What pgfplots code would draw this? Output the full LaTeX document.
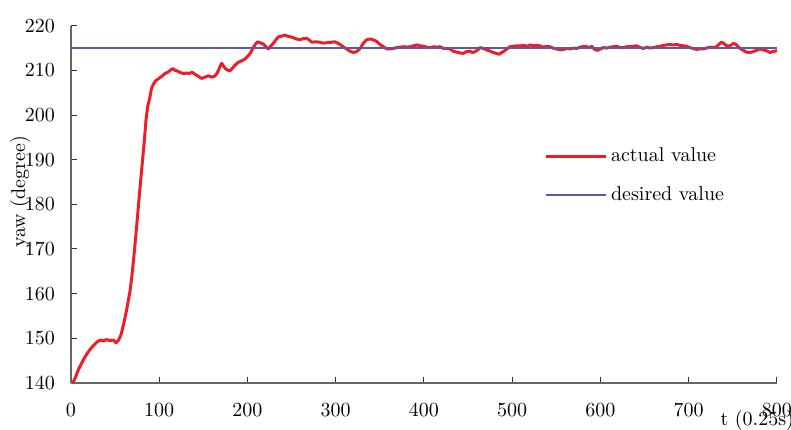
\documentclass[border=0pt]{standalone}
\usepackage{pgfplots}
\pgfplotsset{compat=1.18}
\definecolor{actred}{RGB}{237,30,38}
\definecolor{desblue}{RGB}{88,88,172}
\begin{document}
\begin{tikzpicture}
\begin{axis}[
  scale only axis,
  width=353pt, height=178.6pt,
  xmin=0, xmax=800, ymin=140, ymax=220,
  xtick={0,100,...,800}, ytick={140,150,...,220},
  axis x line=bottom, axis y line=left,
  axis line style={-, draw=black!60, line width=0.6pt},
  tick align=inside,
  major tick length=3pt,
  tick style={black!80, line width=0.5pt},
  xticklabel style={yshift=-7pt},
  yticklabel style={xshift=-4.5pt},
  every axis y label/.style={at={(axis description cs:-0.072,0.535)}, rotate=90, anchor=center},
  every axis x label/.style={at={(axis description cs:0.972,-0.106)}, anchor=center},
  ylabel={yaw (degree)},
  xlabel={t (0.25s)},
  legend style={draw=none, fill=none, at={(rel axis cs:0.661,0.682)}, anchor=north west, row sep=7pt, font=\normalsize},
  legend cell align=left,
  legend image code/.code={\draw[#1] (0pt,0pt) -- (30pt,0pt);},
  clip=false,
]
\addplot[actred, line width=1.5pt, line join=round] coordinates {
(2,140) (5,141.2) (8,142.8) (10,143.6) (14,145.2) (18,146.5) (22,147.6) (26,148.5) (29,149.1) (33,149.6) (37,149.4) (40,149.7) (44,149.5) (48,149.6) (51,149.0) (54,149.6) (57,151) (60,153.5) (63,156.3) (65,158.5) (67,160.7) (69,164) (71,167.8) (73,172) (75,176.4) (77,181) (80,187.6) (83,194) (85,198.9) (87,202) (89.5,204.1) (91,205.8) (93.3,206.9) (96,207.7) (99,208.1) (103,208.7) (106.5,209.3) (110,209.6) (113,210.1) (115.5,210.4) (118,210.0) (120,209.9) (124,209.5) (127.3,209.3) (131,209.4) (134,209.3) (137,209.6) (140,209.2) (144,208.7) (148,208.2) (152,208.5) (155.6,208.8) (159,208.5) (163,208.7) (166,209.5) (168.5,210.7) (170.7,211.6) (173,210.9) (175,210.4) (178,210.0) (180,209.9) (183,210.5) (186,211.2) (189.6,211.8) (193,212.1) (197,212.5) (200,213.1) (203,213.8) (206.6,215.1) (209,215.9) (211.5,216.4) (214,216.2) (218,215.9) (221,215.3) (223.6,214.8) (226,215.4) (229,216.0) (232,216.8) (235,217.5) (239,217.7) (242.5,217.9) (246,217.6) (249,217.5) (252,217.3) (256,217.0) (259.5,216.9) (263,217.1) (267,217.2) (270,216.8) (273,216.3) (277,216.4) (282,216.3) (286,216.1) (290,216.2) (295,216.3) (299,216.4) (302,216.1) (305,215.8) (309,215.2) (312.4,214.8) (316,214.3) (320,214.0) (323.7,214.2) (327.6,214.9) (331,216.0) (334,216.7) (337,217.0) (340,217.0) (343,216.8) (346.4,216.5) (350,215.8) (354,215.3) (358,214.8) (362,214.8) (365,214.9) (369,215.1) (373,215.2) (377,215.3) (380,215.2) (384,215.3) (388,215.5) (392,215.7) (395.5,215.5) (400,215.4) (403,215.2) (407,215.1) (411,215.3) (415,215.2) (418,215.3) (422,214.9) (426,214.9) (429.5,214.8) (433,214.3) (437,214.1) (441,213.9) (444.6,213.8) (448,214.2) (452,214.3) (455,214.0) (458,214.2) (461,214.6) (463.4,215.1) (467,214.9) (471,214.6) (475,214.3) (478.6,214.0) (482,213.8) (485,213.6) (488,214.0) (490,214.2) (494,214.8) (497.5,215.3) (502,215.4) (505,215.5) (509,215.5) (513,215.6) (517,215.4) (520,215.7) (524,215.5) (528,215.6) (531.4,215.5) (535,215.2) (539,215.4) (542.8,215.3) (546,215.0) (550.3,214.8) (554,214.6) (558,214.7) (561.7,214.9) (566,214.8) (570,215.0) (573,214.9) (577,215.2) (581,215.4) (584.3,215.3) (588,215.1) (590,215.4) (593.8,214.6) (597,214.5) (600,214.8) (603.2,215.1) (607,215.0) (611,215.2) (614.5,215.3) (618.4,215.4) (622,215.1) (625.8,215.1) (630,215.3) (633.5,215.3) (637,215.4) (640.9,215.5) (644,215.2) (648.5,214.9) (652.4,215.2) (656,215.0) (659.8,215.1) (664,215.3) (668,215.4) (671.2,215.6) (675,215.7) (678,215.8) (682.5,215.7) (686.3,215.8) (690,215.6) (693.8,215.5) (697.6,215.4) (701,215.1) (705.1,214.9) (708.9,214.7) (712,214.8) (716.5,214.8) (720,215.0) (724,215.2) (727.8,215.1) (731.6,215.3) (734,215.8) (737.2,216.3) (740,216.0) (742.9,215.5) (746.7,215.5) (750.4,216.0) (753,215.9) (756,215.3) (759,214.8) (761.8,214.5) (765,214.1) (769.4,214.0) (773,214.2) (777,214.5) (780.6,214.8) (784,214.6) (788.1,214.4) (792,214.0) (795,214.2) (800,214.4)
};
\addlegendentry{actual value}
\addplot[desblue, line width=0.55pt] coordinates {(0,215) (800,215)};
\addlegendentry{desired value}
\end{axis}
\pgfresetboundingbox
\path[use as bounding box] (-35.5pt,-23.5pt) rectangle (360pt,191.45pt);
\end{tikzpicture}
\end{document}
